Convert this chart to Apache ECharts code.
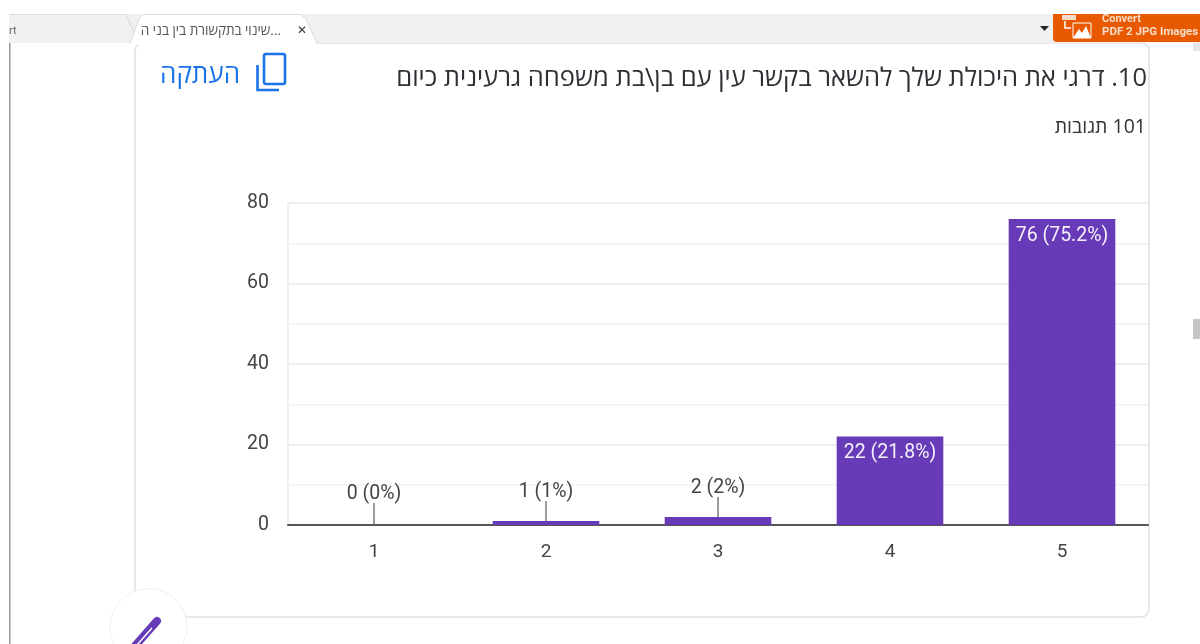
<!DOCTYPE html>
<html>
<head>
<meta charset="utf-8">
<style>html,body{margin:0;padding:0;background:#fff}#c{width:1200px;height:644px}</style>
<script src="https://cdn.jsdelivr.net/npm/echarts@6/dist/echarts.min.js"></script>
</head>
<body>
<div id="c"></div>
<script>
const categories = ['1', '2', '3', '4', '5'];
const counts = [0, 1, 2, 22, 76];
const percents = ['0%', '1%', '2%', '21.8%', '75.2%'];
const titleText = '\u200F10. דרגי את היכולת שלך להשאר בקשר עין עם בן\\בת משפחה גרעינית כיום';
const responsesText = '\u200F101 תגובות';
const tabText = '\u200F...שינוי בתקשורת בין בני ה';
const copyText = 'העתקה';
const FONT = 'Roboto, "Open Sans", sans-serif';
const HEB = '"Open Sans", Roboto, sans-serif';
const PURPLE = '#673ab7', BLUE = '#1a73e8', INK = '#444';

const chart = echarts.init(document.getElementById('c'), null, {renderer: 'canvas'});
const txt = (x, y, text, size, fill, align, font, extra) => ({type: 'text', silent: true, x, y,
  style: Object.assign({text, fontSize: size, fill, align, verticalAlign: 'middle', fontFamily: font || HEB}, extra || {})});
const rect = (x, y, w, h, fill, r, z) => ({type: 'rect', silent: true, z: z || 0,
  shape: {x, y, width: w, height: h, r: r || 0}, style: {fill}});

const chrome = [
  // card
  {type: 'rect', silent: true, shape: {x: 135, y: 43, width: 1014, height: 574, r: 8}, style: {fill: '#fff', stroke: '#dfe0e4', lineWidth: 1.5}},
  rect(9, 14, 1191, 29, '#f1f1f1'),
  // inactive tab
  {type: 'polyline', silent: true, shape: {points: [[9, 14.5], [126, 14.5], [133, 30], [136, 42]]}, style: {stroke: '#dadada', lineWidth: 1, fill: 'none'}},
  txt(9, 31, 'rt', 11, '#666', 'left', FONT),
  // active tab
  {type: 'polygon', silent: true, shape: {points: [[130, 43], [139, 19], [143, 14.5], [300, 14.5], [306, 19], [317, 43]]}, style: {fill: '#fff', stroke: '#dcdcdc', lineWidth: 1}},
  rect(131, 42, 185, 3, '#fff'),
  txt(281, 31, tabText, 13.5, '#555', 'right'),
  txt(302, 31, '✕', 12, '#333', 'center', '"DejaVu Sans"', {fontWeight: 'bold'}),
  // orange extension button
  {type: 'rect', silent: true, shape: {x: 1053, y: 14, width: 147, height: 28, r: [0, 0, 0, 4]}, style: {fill: '#e95a00'}},
  txt(1102, 19.5, 'Convert', 11, '#f6dcc8', 'left', FONT, {fontWeight: 'bold'}),
  txt(1102, 32.5, 'PDF 2 JPG Images', 11.5, '#f6dcc8', 'left', FONT, {fontWeight: 'bold'}),
  // image glyph on the button
  {type: 'rect', silent: true, shape: {x: 1073, y: 23, width: 18, height: 15}, style: {fill: 'none', stroke: '#fff', lineWidth: 1}},
  {type: 'polygon', silent: true, shape: {points: [[1073, 38], [1079, 29], [1082, 33], [1086, 26], [1091, 38]]}, style: {fill: '#fff'}},
  rect(1062, 15, 14, 5, '#f6dcc8'),
  {type: 'polyline', silent: true, shape: {points: [[1065, 21], [1065, 28], [1071, 28]]}, style: {stroke: '#fff', lineWidth: 1.5, fill: 'none'}},
  {type: 'polygon', silent: true, shape: {points: [[1040, 26], [1049, 26], [1044.5, 31]]}, style: {fill: '#222'}},
  // left page edge
  rect(9, 43, 1.5, 601, '#9a9a9a'),
  // scrollbar bits
  rect(1193, 43, 7, 8, '#e8e8e8'),
  rect(1193, 319, 7, 20, '#c6c6c6'),
  // copy icon and label
  {type: 'rect', silent: true, shape: {x: 264, y: 54, width: 21, height: 30, r: 2}, style: {fill: 'none', stroke: BLUE, lineWidth: 2.6}},
  {type: 'polyline', silent: true, shape: {points: [[257.5, 65], [257.5, 90], [279, 90]]}, style: {stroke: BLUE, lineWidth: 2.6, fill: 'none'}},
  txt(240, 76, copyText, 26, BLUE, 'right'),
  // title
  txt(1147, 79, titleText, 25.5, '#2f2f36', 'right'),
  txt(1146, 127, responsesText, 19.5, '#333', 'right'),
  // floating button
  {type: 'circle', silent: true, shape: {cx: 148.5, cy: 627, r: 38.5}, style: {fill: '#fff', stroke: '#efefef', lineWidth: 1}},
  {type: 'polyline', silent: true, shape: {points: [[134, 647], [157, 621]]}, style: {stroke: PURPLE, lineWidth: 8, lineCap: 'round', fill: 'none'}},
  {type: 'polyline', silent: true, shape: {points: [[137, 645], [152, 628]]}, style: {stroke: '#fff', lineWidth: 1.5, fill: 'none'}}
];

const LEADER_MAX = 5;
const barData = counts.map((v, i) => {
  const small = v < LEADER_MAX;
  return {
    value: v,
    label: {
      show: true,
      formatter: v + ' (' + percents[i] + ')',
      position: small ? 'top' : 'insideTop',
      distance: small ? (v === 0 ? 21 : 19) : 7,
      color: small ? INK : '#f4f0fa',
      fontSize: 19.5,
      fontFamily: FONT
    }
  };
});
const leaderData = counts.map((v, i) => [i, v]).filter(d => d[1] < LEADER_MAX);

chart.setOption({
  animation: false,
  backgroundColor: 'transparent',
  graphic: {elements: chrome},
  grid: {left: 288, right: 52, top: 203, bottom: 119, containLabel: false},
  xAxis: {
    type: 'category',
    data: categories,
    axisTick: {show: false},
    axisLine: {lineStyle: {color: '#555', width: 2}},
    axisLabel: {color: INK, fontSize: 19, fontFamily: FONT, margin: 18}
  },
  yAxis: {
    type: 'value',
    min: 0, max: 80, interval: 20,
    minorTick: {show: false, splitNumber: 2},
    minorSplitLine: {show: true, lineStyle: {color: '#f5f5f5', width: 2}},
    splitLine: {lineStyle: {color: '#efefef', width: 2}},
    axisLine: {show: true, lineStyle: {color: '#f0f0f0', width: 2}},
    axisTick: {show: false},
    axisLabel: {color: INK, fontSize: 19.5, fontFamily: FONT, margin: 19, padding: [6, 0, 0, 0]}
  },
  series: [
    {type: 'bar', data: barData, barWidth: '62%', itemStyle: {color: PURPLE}, z: 3},
    {
      type: 'custom', data: leaderData, z: 4, silent: true,
      renderItem: (params, api) => {
        const p = api.coord([api.value(0), api.value(1)]);
        const len = api.value(1) === 0 ? 22 : 20;
        return {type: 'line', shape: {x1: p[0], y1: p[1], x2: p[0], y2: p[1] - len},
          style: {stroke: '#666', lineWidth: 1.3}};
      }
    }
  ]
});
</script>
</body>
</html>
